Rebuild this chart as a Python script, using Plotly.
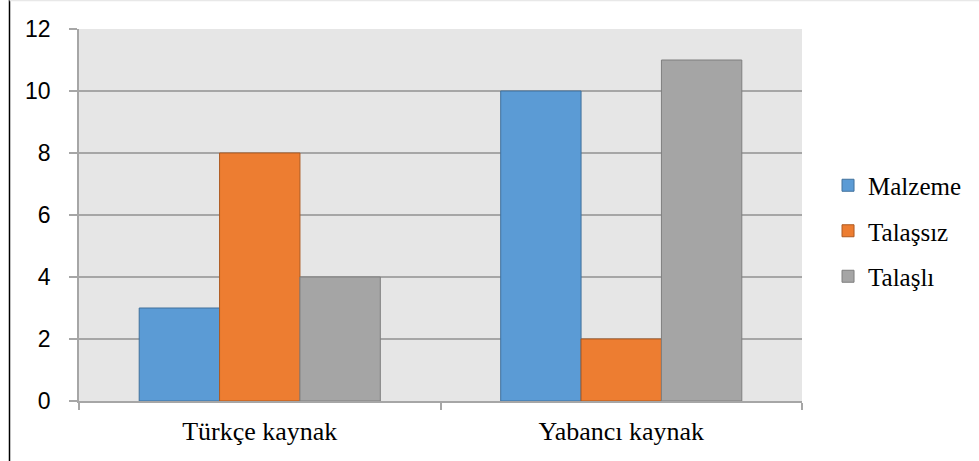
import plotly.graph_objects as go

categories = ["Türkçe kaynak", "Yabancı kaynak"]
series_names = ["Malzeme", "Talaşsız", "Talaşlı"]
malzeme = [3, 10]
talassiz = [8, 2]
talasli = [4, 11]
y_ticks = [0, 2, 4, 6, 8, 10, 12]

values = [malzeme, talassiz, talasli]
fills = ["#5b9bd5", "#ed7d31", "#a5a5a5"]
edges = ["#41719c", "#ae5a21", "#7f7f7f"]

SERIF = "Liberation Serif, Times New Roman, serif"
SANS = "Liberation Sans, Arial, sans-serif"

fig = go.Figure()
for name, vals, fc, ec in zip(series_names, values, fills, edges):
    fig.add_trace(go.Bar(
        x=categories, y=vals, name=name, legendgroup=name,
        marker=dict(color=fc, line=dict(color=ec, width=1)),
    ))

W, H = 979, 461
L, R, T, B = 79, 979 - 802, 29, 461 - 401
pw, ph = W - L - R, H - T - B

fig.update_layout(
    width=W, height=H,
    margin=dict(l=L, r=R, t=T, b=B, autoexpand=False),
    paper_bgcolor="white",
    plot_bgcolor="#e6e6e6",
    barmode="group",
    bargap=0.333,
    bargroupgap=0,
    showlegend=True,
    legend=dict(
        x=1.036, y=1 - (231 - T) / ph, xanchor="left", yanchor="middle",
        font=dict(family=SERIF, size=25, color="#000"),
        tracegroupgap=10,
        itemwidth=30,
        bgcolor="rgba(0,0,0,0)",
    ),
    xaxis=dict(
        type="category",
        tickson="boundaries",
        ticks="outside", ticklen=7, tickcolor="#a6a6a6", tickwidth=1.5,
        showline=True, linecolor="#a6a6a6", linewidth=1.5,
        showgrid=False,
        tickfont=dict(family=SERIF, size=26, color="#000"),
        ticklabelstandoff=6,
    ),
    yaxis=dict(
        range=[0, 12], tickvals=y_ticks,
        ticks="outside", ticklen=8, tickcolor="#a6a6a6", tickwidth=1.5,
        showline=True, linecolor="#a6a6a6", linewidth=1.5,
        showgrid=True, gridcolor="#a6a6a6", gridwidth=1.5,
        zeroline=False,
        tickfont=dict(family=SANS, size=23, color="#000"),
        ticklabelstandoff=14,
    ),
    shapes=[
        dict(type="line", xref="paper", yref="paper",
             x0=(9.5 - L) / pw, x1=(9.5 - L) / pw,
             y0=-B / ph, y1=1 + T / ph,
             line=dict(color="#000", width=1.5)),
        dict(type="line", xref="paper", yref="paper",
             x0=(9.5 - L) / pw, x1=(W - L) / pw,
             y0=1 + (T - 0.5) / ph, y1=1 + (T - 0.5) / ph,
             line=dict(color="#e8e8e8", width=1.5)),
    ],
)

fig.write_html("out.html")
